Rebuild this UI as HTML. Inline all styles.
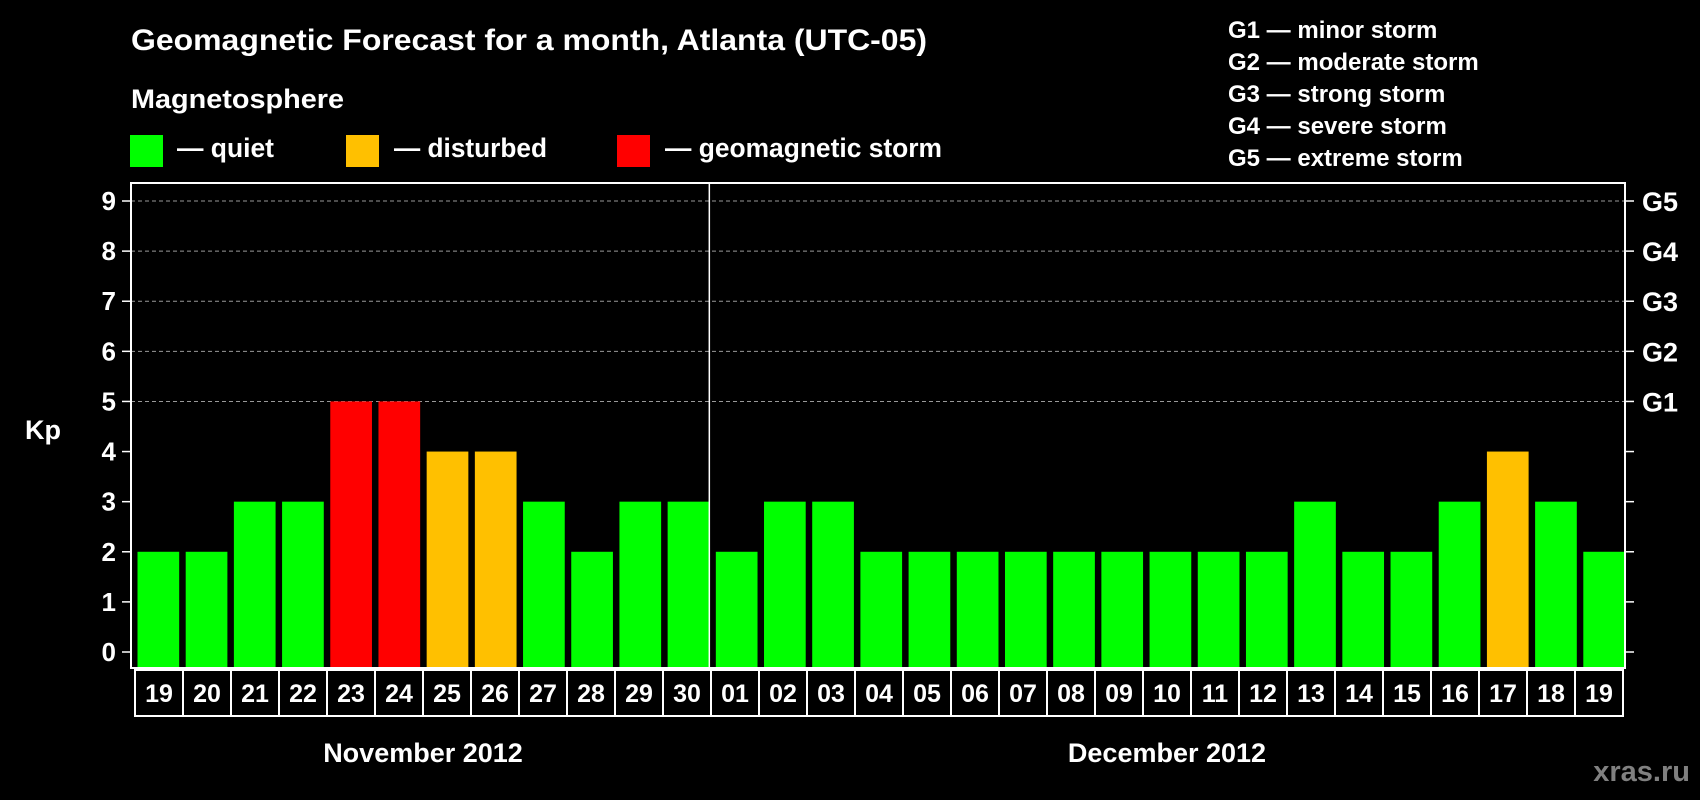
<!DOCTYPE html>
<html><head><meta charset="utf-8"><style>
html,body{margin:0;padding:0;background:#000;}
svg{display:block;font-family:"Liberation Sans",sans-serif;font-weight:bold;}
</style></head><body>
<svg id="chart" width="1700" height="800" viewBox="0 0 1700 800" xmlns="http://www.w3.org/2000/svg">
<rect x="0" y="0" width="1700" height="800" fill="#000"/>
<text x="131" y="50" fill="#fff" font-size="30" textLength="796" lengthAdjust="spacingAndGlyphs">Geomagnetic Forecast for a month, Atlanta (UTC-05)</text>
<text x="131" y="108" fill="#fff" font-size="27" textLength="213" lengthAdjust="spacingAndGlyphs">Magnetosphere</text>
<g>
<rect x="130" y="135" width="33" height="32" fill="#00ff00"/>
<text x="177" y="157" fill="#fff" font-size="27" textLength="97" lengthAdjust="spacingAndGlyphs">— quiet</text>
</g>
<g>
<rect x="346" y="135" width="33" height="32" fill="#ffc000"/>
<text x="394" y="157" fill="#fff" font-size="27" textLength="153" lengthAdjust="spacingAndGlyphs">— disturbed</text>
</g>
<g>
<rect x="617" y="135" width="33" height="32" fill="#ff0000"/>
<text x="665" y="157" fill="#fff" font-size="27" textLength="277" lengthAdjust="spacingAndGlyphs">— geomagnetic storm</text>
</g>
<g fill="#fff" font-size="24">
<text x="1228" y="38">G1 — minor storm</text>
<text x="1228" y="70">G2 — moderate storm</text>
<text x="1228" y="102">G3 — strong storm</text>
<text x="1228" y="134">G4 — severe storm</text>
<text x="1228" y="166">G5 — extreme storm</text>
</g>
<g id="plot"></g>
<text x="43" y="439" fill="#fff" font-size="27" text-anchor="middle">Kp</text>
<text x="423" y="762" fill="#fff" font-size="27" text-anchor="middle">November 2012</text>
<text x="1167" y="762" fill="#fff" font-size="27" text-anchor="middle">December 2012</text>
<text x="1690" y="781" fill="#808080" font-size="29" text-anchor="end">xras.ru</text>
</svg>
<script>
const days = ["19","20","21","22","23","24","25","26","27","28","29","30","01","02","03","04","05","06","07","08","09","10","11","12","13","14","15","16","17","18","19"];
const kpValues = [2,2,3,3,5,5,4,4,3,2,3,3,2,3,3,2,2,2,2,2,2,2,2,2,3,2,2,3,4,3,2];
const yTicks = [0,1,2,3,4,5,6,7,8,9];
const gLabels = ["G1","G2","G3","G4","G5"];
const gLevels = [5,6,7,8,9];
const monthBreakIndex = 12;

const NS = "http://www.w3.org/2000/svg";
const plot = document.getElementById('plot');
const L = 131, R = 1625, T = 183, B = 668;
const y0 = 652, yUnit = (652 - 201) / 9;
const slot = (R - L) / days.length;
const yScale = v => y0 - v * yUnit;
const xScale = i => L + i * slot;
function mk(tag, attrs) {
  const e = document.createElementNS(NS, tag);
  for (const k in attrs) e.setAttribute(k, attrs[k]);
  plot.appendChild(e);
  return e;
}
function colorFor(v) { return v >= 5 ? "#ff0000" : (v >= 4 ? "#ffc000" : "#00ff00"); }

// gridlines
gLevels.forEach(v => {
  const g = mk('line', {x1: L, x2: R, y1: yScale(v), y2: yScale(v), stroke: '#999', 'stroke-width': 1, 'stroke-dasharray': '4,3'});
  
  
});
// bars
kpValues.forEach((v, i) => {
  const b = mk('rect', {x: xScale(i) + 6.5, y: yScale(v), width: slot - 6.5, height: B - yScale(v), fill: colorFor(v)});
  
  
});
// frame
const fr = mk('rect', {x: L, y: T, width: R - L, height: B - T, fill: 'none', stroke: '#fff', 'stroke-width': 2});


const mb = mk('line', {x1: xScale(monthBreakIndex), x2: xScale(monthBreakIndex), y1: T, y2: B, stroke: '#fff', 'stroke-width': 1.5});


// y ticks
yTicks.forEach(v => {
  const y = yScale(v);
  const t1 = mk('line', {x1: L - 9, x2: L, y1: y, y2: y, stroke: '#fff', 'stroke-width': 1.5});
  
  
  const t2 = mk('line', {x1: R, x2: R + 9, y1: y, y2: y, stroke: '#fff', 'stroke-width': 1.5});
  
  
  const lb = mk('text', {x: 116, y: y + 9, fill: '#fff', 'font-size': 26, 'text-anchor': 'end'});
  lb.textContent = v;
  
  
});
gLabels.forEach((g, i) => {
  const lb = mk('text', {x: 1642, y: yScale(gLevels[i]) + 10, fill: '#fff', 'font-size': 27});
  lb.textContent = g;
  
  
});
// date cells
const cx0 = 135, cw = 48, cy = 670, ch = 46;
days.forEach((d, i) => {
  const c = mk('rect', {x: cx0 + i * cw, y: cy, width: cw, height: ch, fill: 'none', stroke: '#fff', 'stroke-width': 2});
  
  
  const t = mk('text', {x: cx0 + i * cw + cw / 2, y: cy + 32, fill: '#fff', 'font-size': 25, 'text-anchor': 'middle'});
  t.textContent = d;
  
  
});
</script>
</body></html>
